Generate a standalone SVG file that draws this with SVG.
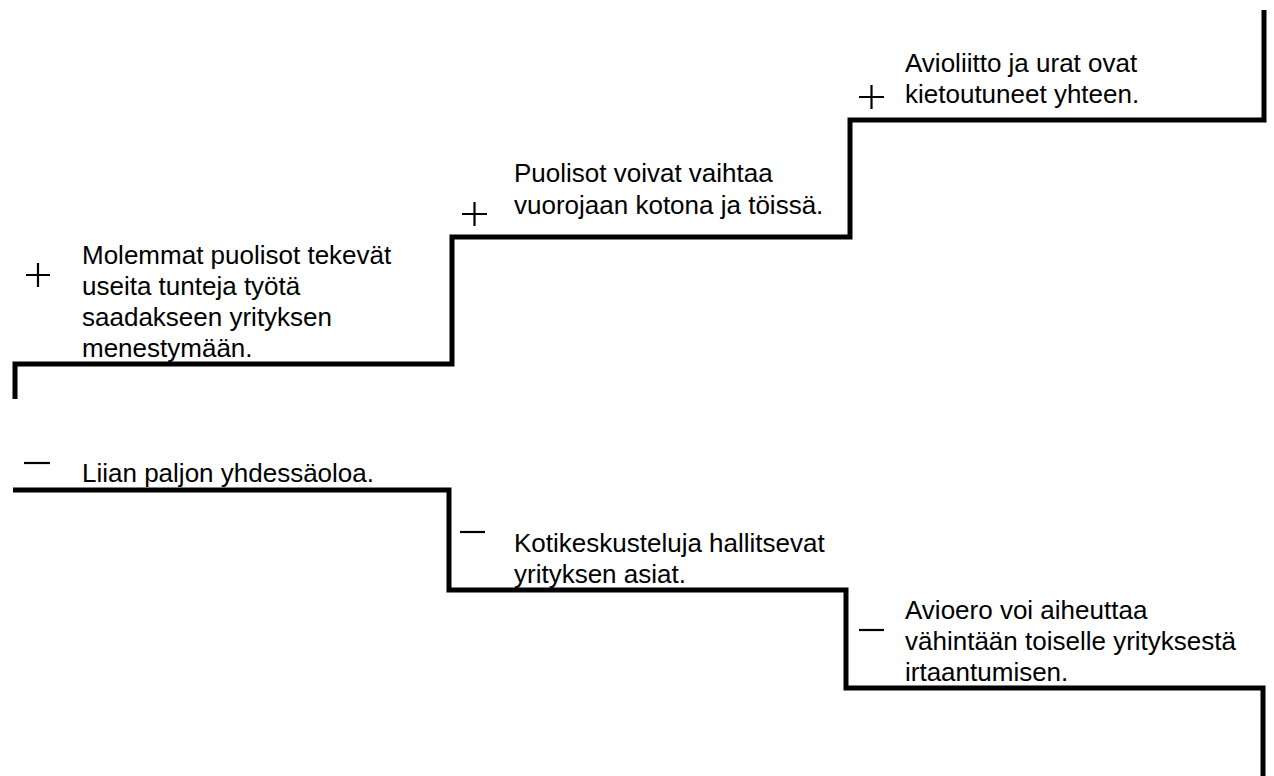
<svg xmlns="http://www.w3.org/2000/svg" width="1274" height="776" viewBox="0 0 1274 776">
  <style>
    .step { fill: none; stroke: #000; stroke-width: 5; stroke-linejoin: miter; stroke-linecap: butt; }
    .sign { fill: none; stroke: #000; stroke-width: 2.2; }
    .label { font-family: "Liberation Sans", Arial, sans-serif; font-size: 26px; fill: #000; }
  </style>
  <rect width="1274" height="776" fill="#fff"/>

  <!-- staircase lines -->
  <g id="connectors">
    <path class="step" d="M15,399 V364 H452 V237 H850 V120 H1264 V10"/>
    <path class="step" d="M13,490 H449 V590 H846 V688 H1263 V776"/>
  </g>

  <!-- upward steps (advantages) -->
  <g id="plus-1">
    <path class="sign" d="M26,275 H50 M38,263 V287"/>
    <text class="label"><tspan x="82" y="264">Molemmat puolisot tekevät</tspan><tspan x="82" y="295">useita tunteja työtä</tspan><tspan x="82" y="326">saadakseen yrityksen</tspan><tspan x="82" y="357">menestymään.</tspan></text>
  </g>
  <g id="plus-2">
    <path class="sign" d="M462,214 H487 M474.5,202 V226"/>
    <text class="label"><tspan x="514" y="182">Puolisot voivat vaihtaa</tspan><tspan x="514" y="214">vuorojaan kotona ja töissä.</tspan></text>
  </g>
  <g id="plus-3">
    <path class="sign" d="M859,97 H884 M871.5,85 V109"/>
    <text class="label"><tspan x="905" y="72">Avioliitto ja urat ovat</tspan><tspan x="905" y="103">kietoutuneet yhteen.</tspan></text>
  </g>

  <!-- downward steps (disadvantages) -->
  <g id="minus-1">
    <path class="sign" d="M24,463 H50"/>
    <text class="label" x="82" y="482">Liian paljon yhdessäoloa.</text>
  </g>
  <g id="minus-2">
    <path class="sign" d="M460,532 H485"/>
    <text class="label"><tspan x="514" y="552">Kotikeskusteluja hallitsevat</tspan><tspan x="514" y="583">yrityksen asiat.</tspan></text>
  </g>
  <g id="minus-3">
    <path class="sign" d="M859,630 H884"/>
    <text class="label"><tspan x="905" y="619">Avioero voi aiheuttaa</tspan><tspan x="905" y="650">vähintään toiselle yrityksestä</tspan><tspan x="905" y="681">irtaantumisen.</tspan></text>
  </g>
</svg>
